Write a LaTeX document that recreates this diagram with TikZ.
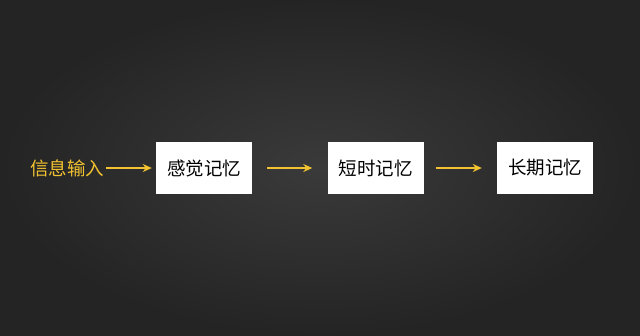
\documentclass[tikz,border=0pt]{standalone}
\usepackage{fontspec}
\usepackage{tikz}
\usetikzlibrary{arrows.meta, positioning}
\newfontfamily\cjk{Noto Sans CJK SC}
\definecolor{memyellow}{HTML}{F2C230}
\definecolor{bgdark}{HTML}{242424}
\definecolor{bglight}{HTML}{3A3A3A}

\begin{document}
\begin{tikzpicture}[
    x=1pt, y=-1pt,
    mem/.style={draw=none, fill=white, minimum width=96pt, minimum height=52pt,
                inner sep=0pt, font=\cjk\fontsize{18.5}{20}\selectfont, text=black},
    flow/.style={-{Stealth[length=9pt, width=8pt]}, line width=1.6pt, memyellow},
]
    % dark backdrop, lighter in the middle
    \shade[inner color=bglight, outer color=bgdark] (0,0) rectangle (640,335);
    \useasboundingbox (0,0) rectangle (640,335);

    \node[font=\cjk\fontsize{18.5}{20}\selectfont, text=memyellow, inner sep=0pt] (input) at (67,168) {信息输入};

    \node[mem] (sensory) at (204,168) {感觉记忆};
    \node[mem] (short) at (375.5,168) {短时记忆};
    \node[mem] (long) at (545,168) {长期记忆};

    \draw[flow] ([xshift=2pt]input.east) -- ([xshift=-4pt]sensory.west);
    \draw[flow] ([xshift=15pt]sensory.east) -- ([xshift=-15pt]short.west);
    \draw[flow] ([xshift=12pt]short.east) -- ([xshift=-15pt]long.west);
\end{tikzpicture}
\end{document}
